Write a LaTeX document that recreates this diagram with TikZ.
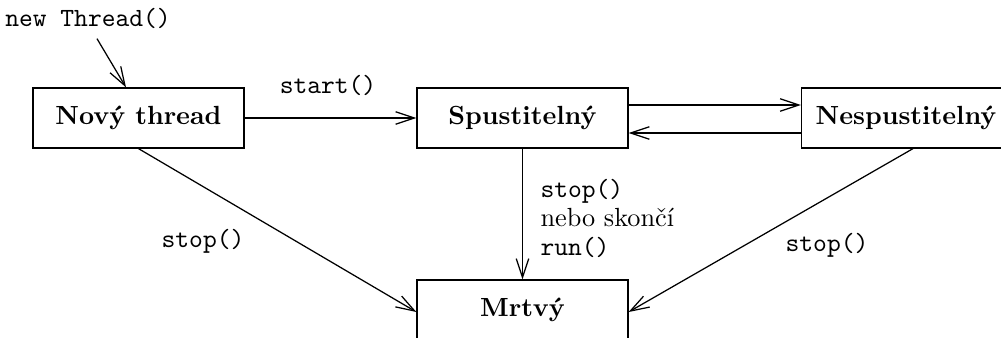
\documentclass[tikz,border=0pt]{standalone}
\usepackage{fontspec}
\usetikzlibrary{arrows.meta}
\begin{document}
\begin{tikzpicture}[x=0.4pt,y=-0.4pt,
  every node/.style={font=\fontsize{10.5}{12.6}\selectfont},
  state/.style={draw,line width=0.5pt,minimum width=84.4pt,minimum height=24pt,inner sep=0pt,font=\fontsize{10.5}{12.6}\selectfont\bfseries},
  arr/.style={line width=0.5pt,-{Straight Barb[length=7.5pt,width=5pt]}},
  lbl/.style={inner sep=0pt,font=\fontsize{10.5}{12.6}\selectfont\ttfamily}]
\clip (0,0) rectangle (1001,338);
\useasboundingbox (0,0) rectangle (1001,338);
\node[state] (nt) at (138.5,118) {Nový thread};
\node[state] (sp) at (522.5,118) {Spustitelný};
\node[state,minimum width=83.6pt] (ns) at (906,118) {Nespustitelný};
\node[state] (mr) at (522.5,310) {Mrtvý};
\node[lbl] (newt) at (88,18) {new Thread()};
\node[lbl] (lstart) at (328,85) {start()};
\node[lbl] (lstop1) at (203,241) {stop()};
\node[lbl] (lstop3) at (827,245) {stop()};
\node[inner sep=0pt,anchor=west,align=left] (lstop2) at (540,218) {\texttt{stop()}\\[-1pt]nebo skončí\\[-1pt]\texttt{run()}};
\draw[arr] ([xshift=3.6pt,yshift=-4pt]newt.south) -- ([xshift=-5pt]nt.north);
\draw[arr] (nt.east) -- (sp.west);
\draw[arr] ([yshift=5.2pt]sp.east) -- ([yshift=5.2pt]ns.west);
\draw[arr] ([yshift=-6pt]ns.west) -- ([yshift=-6pt]sp.east);
\draw[arr] (sp.south) -- (mr.north);
\draw[arr] (nt.south) -- ([yshift=-0.8pt]mr.west);
\draw[arr] ([xshift=2.8pt]ns.south) -- ([yshift=-0.8pt]mr.east);
\end{tikzpicture}
\end{document}
